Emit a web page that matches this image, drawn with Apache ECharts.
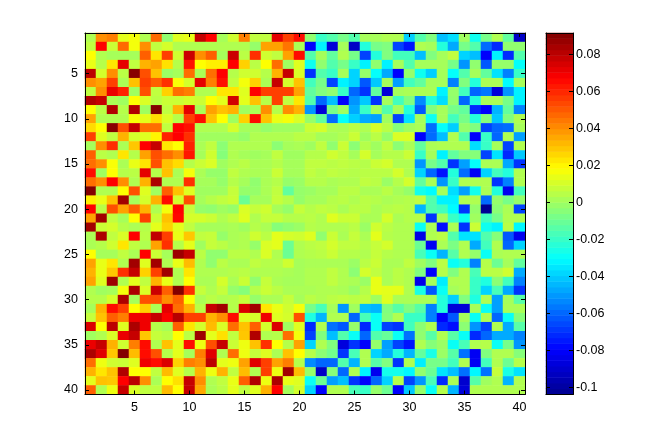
<!DOCTYPE html>
<html>
<head>
<meta charset="utf-8">
<style>
  html, body { margin: 0; padding: 0; background: #fff; }
  #main { width: 657px; height: 443px; }
</style>
<script src="https://cdn.jsdelivr.net/npm/echarts@6/dist/echarts.min.js"></script>
</head>
<body>
<div id="main"></div>
<script>
// cell values, rows top to bottom, in units of 0.001
var heatRows = [
  [3,40,43,13,16,3,47,-3,12,14,78,67,1,9,43,6,6,72,55,65,-3,-20,-15,-8,-15,1,1,3,3,-40,-15,-6,-43,-37,0,-28,-8,3,-12,-92],
  [6,67,8,47,16,40,6,10,3,3,3,3,3,3,3,-2,36,36,45,2,-80,-33,-88,1,-92,-24,-8,-6,-67,-76,3,1,-24,-47,-8,-15,-59,-72,-3,-3],
  [18,3,1,1,1,49,23,55,9,77,40,49,1,77,5,58,9,6,36,65,-15,1,-12,3,-8,-67,-24,-6,-18,-18,-43,-6,1,6,-39,-43,-80,-33,-72,-15],
  [14,4,23,72,6,33,36,24,4,64,18,21,21,67,27,5,18,46,0,12,-28,-3,-15,-8,-20,-33,-3,-33,1,-15,1,1,1,-8,-51,-3,-63,-2,-2,-30],
  [80,10,40,5,90,52,30,-1,1,46,2,46,67,4,9,9,4,33,78,11,-70,-15,-20,1,-39,-2,-30,-47,-80,-2,-28,-40,1,-30,-15,1,-12,-36,-55,-20],
  [40,36,55,2,30,55,49,58,17,10,72,43,64,6,16,27,2,78,10,30,-18,-8,-67,-33,-39,-63,-41,1,-49,-18,-12,1,1,-55,-6,-24,2,2,-31,1],
  [6,40,71,61,0,52,6,27,46,43,3,3,23,23,12,67,55,55,55,36,-12,-6,-3,-20,-60,-70,-12,-88,1,2,2,2,-33,-2,-18,-60,-57,-88,-51,-33],
  [82,78,2,0,18,11,5,8,8,10,8,18,13,76,13,30,4,55,6,23,-15,-60,-43,-80,-51,-41,-70,1,-18,-6,-53,-24,-37,-3,-60,-24,2,2,-8,-33],
  [18,5,82,4,82,0,91,6,33,72,2,36,30,33,0,2,40,4,40,33,-51,-88,-8,0,-47,-20,1,-15,1,-24,-63,-6,1,-8,-12,-72,-80,-45,-12,-55],
  [36,3,3,3,17,13,25,11,4,55,65,30,18,0,27,65,30,14,16,11,-2,-12,-59,-30,-40,-47,-49,0,-67,-36,1,-28,1,-18,-8,-24,-5,-41,-6,3],
  [25,18,90,52,78,46,46,6,67,64,3,3,3,10,1,1,-2,0,0,0,8,10,3,2,5,3,10,5,-5,0,2,-59,-30,-40,-2,-6,-67,-60,-59,1],
  [55,12,6,33,10,12,20,61,67,58,0,0,0,0,-2,3,3,3,3,5,5,1,1,3,8,0,5,-2,11,11,-80,-59,-43,3,-15,-80,-20,-60,3,-49],
  [1,40,58,2,29,67,78,23,18,61,2,6,-4,3,3,3,3,-4,1,2,0,6,-3,8,-4,4,0,6,-4,2,-12,2,3,3,3,-37,-20,1,-67,3],
  [49,5,3,23,4,36,52,46,40,63,1,9,-5,3,1,0,1,6,0,0,4,4,9,6,1,10,1,4,4,8,-20,1,-33,-12,-6,-5,-67,-36,-72,-41],
  [46,40,17,2,14,23,52,30,25,4,8,11,0,3,5,2,2,4,1,1,6,6,5,6,5,4,8,10,3,3,-51,-8,-15,-70,-49,-30,2,2,-47,-70],
  [65,0,18,4,5,72,4,30,2,16,2,-2,-2,6,3,2,2,8,1,1,6,4,6,5,4,5,5,5,10,3,-39,-60,-76,-24,-59,-82,-39,-18,-24,3],
  [46,40,67,40,3,33,83,3,3,58,1,1,-2,4,1,-3,2,4,-2,-1,4,4,2,3,3,6,5,-1,4,10,-12,2,-51,-20,3,3,3,-70,-55,3],
  [91,3,3,18,52,12,0,49,30,12,0,0,0,7,-2,-2,2,6,-12,-2,-1,1,1,5,5,2,2,5,1,-2,-27,-31,1,-37,-49,-27,2,-24,-83,-18],
  [21,14,30,85,1,10,33,65,10,52,1,4,6,8,-10,1,1,7,4,-2,1,1,4,5,3,5,4,2,3,4,6,-15,-33,-33,3,3,-59,-2,-8,-2],
  [67,5,52,36,49,33,3,16,67,7,-2,-3,0,-2,11,7,9,1,-2,7,4,6,5,2,5,5,2,4,5,4,-45,-15,-18,-31,-70,-2,-103,-4,2,-67],
  [36,85,6,1,18,55,8,30,66,10,10,8,3,6,12,3,7,7,4,4,5,3,12,8,8,2,2,10,2,4,4,-70,1,-20,-28,0,-18,-8,3,3],
  [85,8,10,4,2,4,13,27,13,6,1,1,1,2,0,4,2,-5,-3,-1,4,3,3,3,5,-1,9,5,3,3,-29,2,-77,2,-70,8,-28,-33,5,-32],
  [2,83,6,11,67,5,79,55,14,29,6,7,-2,2,3,9,5,13,10,9,12,-3,8,2,7,2,13,4,3,3,-85,3,5,-15,-36,-36,-15,-5,-63,-83],
  [2,4,9,23,6,3,36,58,4,13,0,7,5,2,3,-2,11,13,-10,3,5,6,10,6,6,4,7,10,3,3,-10,-82,2,-7,3,-47,-18,3,-60,-39],
  [18,1,1,6,2,67,8,1,86,78,5,-3,-3,5,5,3,11,3,-10,3,4,5,8,4,4,3,7,4,3,3,-17,-29,-45,-14,3,-2,-29,2,3,3],
  [36,14,23,3,85,12,85,3,14,31,3,-3,5,2,2,6,4,4,9,1,2,2,2,2,-1,5,8,2,2,6,0,-6,5,-29,-24,-55,4,-10,1,-12],
  [33,14,29,58,78,27,55,85,3,23,3,3,3,4,5,3,3,3,2,1,3,3,6,3,-4,10,6,2,5,3,-6,-80,4,-6,3,-17,5,5,9,-47],
  [36,12,86,3,13,6,33,14,3,18,2,2,10,2,8,-3,7,2,1,1,3,3,6,3,2,-1,14,2,5,3,-84,1,-34,3,3,-20,-25,-4,-18,-55],
  [3,0,1,16,83,11,77,49,91,58,7,3,7,-2,-5,4,8,5,2,2,2,3,3,2,-1,4,14,13,13,3,-26,-63,-29,1,3,-20,-39,-17,-47,-70],
  [4,4,10,83,1,52,52,40,49,18,2,5,3,4,7,-2,2,2,7,1,5,3,5,6,5,6,0,12,2,2,2,2,-24,-40,-6,-25,3,-49,1,-14],
  [1,33,65,55,18,27,2,72,46,33,5,78,85,4,74,85,23,14,9,16,-8,-17,1,-51,0,-43,-45,-6,-14,-6,-14,-55,-24,-88,-88,1,-29,-49,2,2],
  [7,30,49,43,70,70,78,68,81,55,55,33,40,65,12,10,70,12,10,52,-25,-45,3,3,-60,-17,-29,-5,3,-20,-20,-55,-80,-63,1,-29,3,-60,-29,-5],
  [74,18,80,12,83,70,4,1,49,23,10,31,11,46,30,49,10,74,0,12,-72,3,-58,-63,-2,-72,-29,-67,-70,-18,-4,3,-72,-77,-4,-51,-67,3,-47,-14],
  [0,3,11,71,78,29,7,5,18,5,86,13,24,6,29,82,3,4,46,16,-67,-6,-43,-15,-29,-60,-15,-11,-29,-58,-3,-14,3,-14,-29,-72,-60,-47,-47,-55],
  [71,78,33,9,43,65,3,30,13,65,15,52,78,8,15,30,58,18,4,36,-39,3,-6,-87,-70,-80,-2,-49,-67,-76,3,-5,-1,-29,-17,3,4,-29,-8,-51],
  [83,73,29,91,31,65,52,4,13,1,43,73,3,46,15,7,12,2,30,18,4,-4,-9,-70,-17,3,-39,-47,-24,-45,-12,-26,-1,-14,-58,-82,-6,3,3,-5],
  [46,15,9,8,12,70,65,74,27,43,40,80,13,15,36,73,55,36,43,4,-53,-60,-60,-15,-45,3,-14,-6,-70,3,-34,-8,-8,-18,3,-82,-18,3,-10,4],
  [33,23,30,82,18,18,6,31,12,4,33,15,33,6,31,3,55,15,85,31,-2,-92,-5,-60,3,-33,-83,-27,-27,-32,-3,-10,-36,-43,-58,-32,-58,7,-26,-36],
  [13,30,29,67,80,40,2,18,24,78,40,3,6,14,49,82,15,83,14,12,-29,-10,-49,-43,-70,-80,-60,-39,4,-67,-51,-17,-72,2,-90,-14,0,3,-45,3],
  [49,3,15,78,11,6,6,31,18,78,35,2,5,13,6,12,33,67,1,10,-39,-80,3,3,-17,-20,-2,-10,-80,-41,-2,-29,4,-45,-88,3,3,3,3,3]
];
var colCount = 40;
var rowCount = 40;
var axisTicks = [5, 10, 15, 20, 25, 30, 35, 40];

// color scale
var scaleMin = -0.104;
var scaleMax = 0.0915;
var jetStops = ["#00008f", "#0000ff", "#0080ff", "#00ffff", "#80ff80", "#ffff00", "#ff8000", "#ff0000", "#800000"];
var barLevels = 64;
var barTicks = [-0.1, -0.08, -0.06, -0.04, -0.02, 0, 0.02, 0.04, 0.06, 0.08];

var labelFont = "Liberation Sans";
var labelSize = 12.5;

var colNames = [];
var rowNames = [];
for (var c = 1; c <= colCount; c++) colNames.push(String(c));
for (var r = 1; r <= rowCount; r++) rowNames.push(String(r));

var heatData = [];
heatRows.forEach(function (row, ri) {
  row.forEach(function (v, ci) {
    heatData.push([ci, ri, v / 1000]);
  });
});

var barNames = [];
var barData = [];
for (var i = 0; i < barLevels; i++) {
  barNames.push(String(i));
  barData.push([0, i, scaleMin + (i + 0.5) / barLevels * (scaleMax - scaleMin)]);
}

function onTick(index) {
  return axisTicks.indexOf(index + 1) >= 0;
}

var line = { show: true, lineStyle: { color: "#000", width: 1 } };

function catAxis(names, extra) {
  return Object.assign({
    type: "category",
    data: names,
    gridIndex: 0,
    z: 10,
    axisLine: Object.assign({ onZero: false }, line),
    splitLine: { show: false },
    axisTick: {
      show: true,
      inside: true,
      alignWithLabel: true,
      interval: onTick,
      length: 4,
      lineStyle: { color: "#000" }
    },
    axisLabel: {
      show: true,
      interval: onTick,
      color: "#000",
      fontFamily: labelFont,
      fontSize: labelSize,
      margin: 7
    }
  }, extra);
}

function barValueAxis(position, showLabel) {
  return {
    type: "value",
    gridIndex: 1,
    position: position,
    min: scaleMin,
    max: scaleMax,
    z: 10,
    axisLine: Object.assign({ onZero: false }, line),
    splitLine: { show: false },
    axisTick: {
      show: true,
      inside: true,
      length: 4,
      customValues: barTicks,
      lineStyle: { color: "#000" }
    },
    axisLabel: {
      show: showLabel,
      customValues: barTicks,
      formatter: function (v) { return String(v); },
      color: "#000",
      fontFamily: labelFont,
      fontSize: labelSize,
      margin: 3
    }
  };
}

var chart = echarts.init(document.getElementById("main"));
chart.setOption({
  backgroundColor: "#fff",
  animation: false,
  grid: [
    { left: 85, top: 33, width: 440, height: 361.5 },
    { left: 546, top: 33, width: 27, height: 361.5 }
  ],
  xAxis: [
    catAxis(colNames, { position: "bottom" }),
    catAxis(colNames, { position: "top", axisLabel: { show: false } }),
    {
      type: "category",
      data: ["c"],
      gridIndex: 1,
      position: "bottom",
      z: 10,
      axisLine: Object.assign({ onZero: false }, line),
      axisTick: { show: false },
      axisLabel: { show: false }
    },
    {
      type: "category",
      data: ["c"],
      gridIndex: 1,
      position: "top",
      z: 10,
      axisLine: Object.assign({ onZero: false }, line),
      axisTick: { show: false },
      axisLabel: { show: false }
    }
  ],
  yAxis: [
    catAxis(rowNames, { position: "left", inverse: true }),
    catAxis(rowNames, { position: "right", inverse: true, axisLabel: { show: false } }),
    {
      type: "category",
      data: barNames,
      gridIndex: 1,
      show: false
    },
    barValueAxis("right", true),
    barValueAxis("left", false)
  ],
  visualMap: {
    show: false,
    type: "continuous",
    seriesIndex: [0, 1],
    dimension: 2,
    min: scaleMin,
    max: scaleMax,
    inRange: { color: jetStops }
  },
  series: [
    {
      type: "heatmap",
      xAxisIndex: 0,
      yAxisIndex: 0,
      data: heatData,
      progressive: 0,
      emphasis: { disabled: true }
    },
    {
      type: "heatmap",
      xAxisIndex: 2,
      yAxisIndex: 2,
      data: barData,
      progressive: 0,
      emphasis: { disabled: true }
    }
  ]
});
</script>
</body>
</html>
